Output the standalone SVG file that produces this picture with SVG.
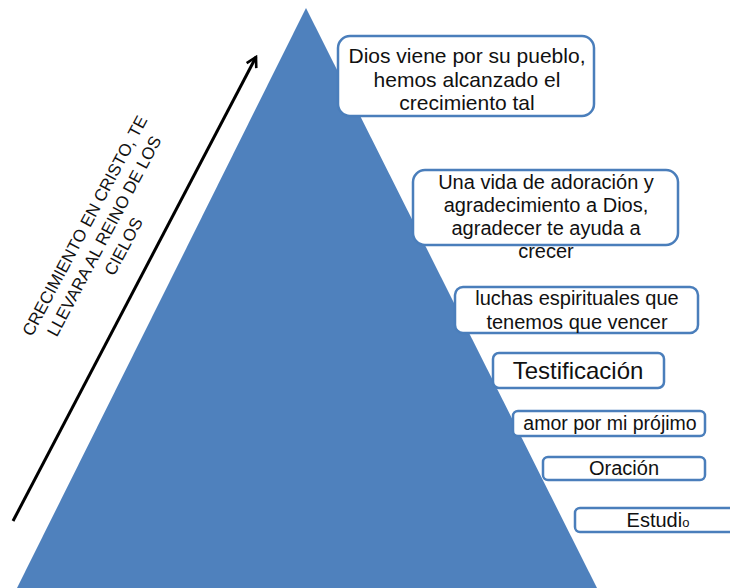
<svg xmlns="http://www.w3.org/2000/svg" width="730" height="588" viewBox="0 0 730 588">
<defs>
<style>
.box{fill:#ffffff;stroke:#4A7EBB;stroke-width:2.5}
.t{font-family:"Liberation Sans",Arial,sans-serif;fill:#111111;text-anchor:middle}
</style>
<marker id="ah" viewBox="0 0 12 12" refX="10" refY="6" markerWidth="13" markerHeight="13" markerUnits="userSpaceOnUse" orient="auto">
<path d="M1,1 L10,6 L1,11" fill="none" stroke="#000" stroke-width="2.4"/>
</marker>
</defs>
<rect width="730" height="588" fill="#ffffff"/>
<g id="pyramid"><polygon points="306,8 16,590 598,590" fill="#4F81BD"/></g>
<g id="connectors">
<line x1="13" y1="521" x2="256" y2="57" stroke="#000" stroke-width="3" marker-end="url(#ah)"/>
</g>
<g id="arrow-label" class="t" font-size="17" transform="translate(104,236) rotate(-62)">
<text x="0" y="-16">CRECIMIENTO EN CRISTO, TE</text>
<text x="0" y="6">LLEVARA AL REINO DE LOS</text>
<text x="0" y="28">CIELOS</text>
</g>
<g id="n1">
<rect class="box" x="338" y="36" width="256" height="80" rx="12"/>
<text class="t" font-size="21" x="467" y="63">Dios viene por su pueblo,</text>
<text class="t" font-size="21" x="467" y="87">hemos alcanzado el</text>
<text class="t" font-size="21" x="467" y="110">crecimiento tal</text>
</g>
<g id="n2">
<rect class="box" x="413" y="170" width="265" height="75" rx="12"/>
<text class="t" font-size="20" x="546" y="189">Una vida de adoración y</text>
<text class="t" font-size="20" x="546" y="212">agradecimiento a Dios,</text>
<text class="t" font-size="20" x="546" y="235">agradecer te ayuda a</text>
<text class="t" font-size="20" x="546" y="258">crecer</text>
</g>
<g id="n3">
<rect class="box" x="455" y="287" width="243" height="46" rx="8"/>
<text class="t" font-size="20" x="577" y="305">luchas espirituales que</text>
<text class="t" font-size="20" x="577" y="329">tenemos que vencer</text>
</g>
<g id="n4">
<rect class="box" x="493" y="353" width="171" height="35" rx="6"/>
<text class="t" font-size="24" x="578" y="379">Testificación</text>
</g>
<g id="n5">
<rect class="box" x="513" y="411" width="192" height="25" rx="5"/>
<text class="t" font-size="19.5" x="610" y="430">amor por mi prójimo</text>
</g>
<g id="n6">
<rect class="box" x="543" y="457" width="162" height="23" rx="5"/>
<text class="t" font-size="20" x="624" y="475">Oración</text>
</g>
<g id="n7">
<rect class="box" x="575" y="508" width="170" height="24" rx="5"/>
<text class="t" font-size="20" x="658" y="527">Estudi<tspan font-size="13">o</tspan></text>
</g>
</svg>
